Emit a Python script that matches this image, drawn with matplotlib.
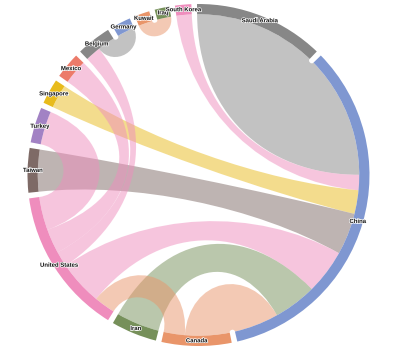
import numpy as np
import matplotlib
matplotlib.use("Agg")
import matplotlib.pyplot as plt
from matplotlib.path import Path
from matplotlib.patches import PathPatch, Wedge
import matplotlib.patheffects as pe

# 节点顺序（顺时针，从顶部开始）
countries = ["Saudi Arabia", "China", "Canada", "Iran", "United States",
             "Taiwan", "Turkey", "Singapore", "Mexico", "Belgium",
             "Germany", "Kuwait", "Iraq", "South Korea"]

# 调色板（按节点序号循环）
palette = ["#878787", "#7f97d1", "#e9956a", "#76905a", "#ef8dbd",
           "#7e6a66", "#a282c4", "#e8bb1c", "#ec7b6a"]

# 连线：起点 -> 终点，权重
link_from = ["Saudi Arabia", "South Korea", "Singapore", "Taiwan",
             "United States", "Iran", "Canada", "Canada",
             "United States", "United States", "United States",
             "Belgium", "Kuwait"]
link_to = ["China", "China", "China", "China", "China", "China", "China",
           "United States", "Belgium", "Mexico", "Turkey",
           "Germany", "Iraq"]
link_weight = [44, 5.5, 8.5, 15, 16, 15.5, 16, 7.6, 5.5, 8.8, 12, 6.3, 5]

R_OUT = 1.0
R_IN = 0.94
PAD = 1.9          # 节点间隔（度）
START = -0.5       # 起始角（度，顺时针，0 为顶部）
CURVE = 0.6


def polar(theta, r):
    t = np.radians(theta)
    return np.array([r * np.sin(t), r * np.cos(t)])


n = len(countries)
idx = {c: i for i, c in enumerate(countries)}
totals = np.zeros(n)
for f, t, w in zip(link_from, link_to, link_weight):
    totals[idx[f]] += w
    totals[idx[t]] += w

scale = (360 - n * PAD) / totals.sum()
node_start = np.zeros(n)
a = START
for i in range(n):
    node_start[i] = a
    a += totals[i] * scale + PAD

# 每个节点上的连线位置（避免交叉）
ends = {}
for i in range(n):
    links = []
    for k, (f, t) in enumerate(zip(link_from, link_to)):
        if idx[f] == i:
            links.append((idx[t], k))
        elif idx[t] == i:
            links.append((idx[f], k))
    links.sort()
    lower = [l for l in links if l[0] < i][::-1]
    higher = [l for l in links if l[0] > i][::-1]
    off = node_start[i]
    for other, k in lower + higher:
        w = link_weight[k] * scale
        ends[(k, i)] = (off, off + w)
        off += w


def curve_factor(a1, a2):
    d = abs(a1 - a2) % 360
    if d > 180:
        d = 360 - d
    d = np.radians(d)
    cf = CURVE
    if d < 1:
        cf *= d
    return cf


def arc_pts(a0, a1, r, num=40):
    return [polar(t, r) for t in np.linspace(a0, a1, num)]


fig = plt.figure(figsize=(4, 3.56), dpi=100)
ax = fig.add_axes([0, 0, 1, 1])
ax.set_xlim(-198.5 / 171, 201.5 / 171)
ax.set_ylim(-181 / 171, 175 / 171)
ax.axis("off")

# 连线
for k, (f, t) in enumerate(zip(link_from, link_to)):
    a0, a1 = ends[(k, idx[f])]
    b0, b1 = ends[(k, idx[t])]
    verts, codes = [], []
    pts = arc_pts(a0, a1, R_IN)
    verts += pts
    codes += [Path.MOVETO] + [Path.LINETO] * (len(pts) - 1)
    cf = curve_factor(a1, b0)
    verts += [polar(a1, R_IN * (1 - cf)), polar(b0, R_IN * (1 - cf)), polar(b0, R_IN)]
    codes += [Path.CURVE4] * 3
    pts = arc_pts(b0, b1, R_IN)
    verts += pts[1:]
    codes += [Path.LINETO] * (len(pts) - 1)
    cf = curve_factor(b1, a0)
    verts += [polar(b1, R_IN * (1 - cf)), polar(a0, R_IN * (1 - cf)), polar(a0, R_IN)]
    codes += [Path.CURVE4] * 3
    verts.append(polar(a0, R_IN))
    codes.append(Path.CLOSEPOLY)
    color = palette[idx[f] % len(palette)]
    ax.add_patch(PathPatch(Path(np.array(verts), codes), facecolor=color,
                           edgecolor="none", alpha=0.5))

# 节点弧
for i, name in enumerate(countries):
    s = node_start[i]
    e = s + totals[i] * scale
    ax.add_patch(Wedge((0, 0), R_OUT, 90 - e, 90 - s, width=R_OUT - R_IN,
                       facecolor=palette[i % len(palette)], edgecolor="none"))
    m = (s + e) / 2
    x, y = polar(m, (R_OUT + R_IN) / 2)
    ax.text(x, y, name, ha="center", va="center", fontsize=4.3,
            fontweight="bold", family="Liberation Sans", color="#111111",
            path_effects=[pe.withStroke(linewidth=1.0, foreground="white")])

plt.savefig("out.png", dpi=100)
